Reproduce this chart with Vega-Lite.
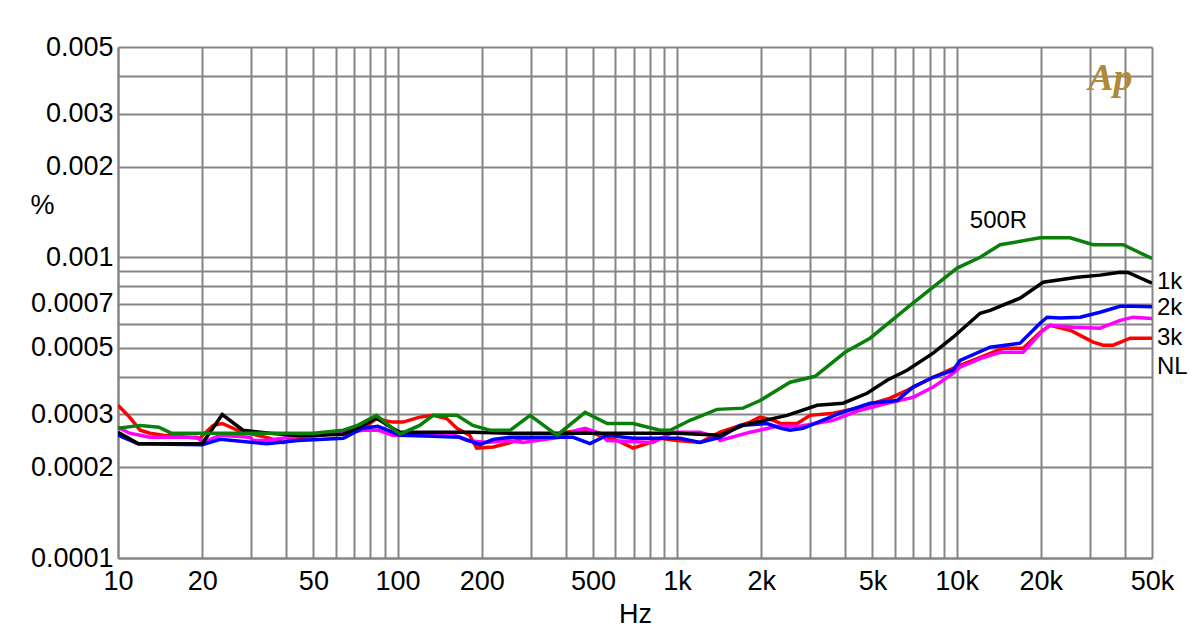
{
  "$schema": "https://vega.github.io/schema/vega-lite/v6.json",
  "width": 1034,
  "height": 511,
  "autosize": {"type": "none"},
  "padding": {"left": 118, "top": 47, "right": 48, "bottom": 84},
  "background": "white",
  "config": {
    "view": {"stroke": null},
    "font": "Liberation Sans",
    "axis": {
      "gridColor": "#858585", "gridWidth": 2, "gridOpacity": 1,
      "domainColor": "#858585", "domainWidth": 2,
      "ticks": false, "labelColor": "#000", "labelFontSize": 27, "labelFont": "Liberation Sans",
      "titleFont": "Liberation Sans", "titleFontSize": 27, "titleFontWeight": "normal", "titleColor": "#000",
      "labelOverlap": false, "labelFlush": false, "labelBound": false
    }
  },
  "layer": [
    {
      "data": {"values": [
        {"s":"NL","f":10,"v":0.000322},{"s":"NL","f":11,"v":0.000294},{"s":"NL","f":12,"v":0.000266},{"s":"NL","f":13,"v":0.00026},{"s":"NL","f":14.5,"v":0.000256},{"s":"NL","f":19.6,"v":0.00025},{"s":"NL","f":21.9,"v":0.000276},{"s":"NL","f":23.6,"v":0.00028},{"s":"NL","f":26.7,"v":0.000266},{"s":"NL","f":35,"v":0.00025},{"s":"NL","f":38.9,"v":0.000242},{"s":"NL","f":43.7,"v":0.00025},{"s":"NL","f":64,"v":0.000262},{"s":"NL","f":75,"v":0.00027},{"s":"NL","f":84,"v":0.00029},{"s":"NL","f":96,"v":0.000283},{"s":"NL","f":104.6,"v":0.000283},{"s":"NL","f":120,"v":0.000294},{"s":"NL","f":134,"v":0.000298},{"s":"NL","f":150,"v":0.000291},{"s":"NL","f":163,"v":0.00027},{"s":"NL","f":181,"v":0.000256},{"s":"NL","f":192,"v":0.000232},{"s":"NL","f":220,"v":0.000234},{"s":"NL","f":253,"v":0.000242},{"s":"NL","f":281,"v":0.00025},{"s":"NL","f":351,"v":0.00025},{"s":"NL","f":404,"v":0.000262},{"s":"NL","f":450,"v":0.000266},{"s":"NL","f":501,"v":0.00026},{"s":"NL","f":562,"v":0.00025},{"s":"NL","f":610,"v":0.000246},{"s":"NL","f":696,"v":0.000232},{"s":"NL","f":781,"v":0.00024},{"s":"NL","f":869,"v":0.00025},{"s":"NL","f":1000,"v":0.000246},{"s":"NL","f":1208,"v":0.000242},{"s":"NL","f":1425,"v":0.000262},{"s":"NL","f":1825,"v":0.000283},{"s":"NL","f":1982,"v":0.000294},{"s":"NL","f":2206,"v":0.000287},{"s":"NL","f":2352,"v":0.00028},{"s":"NL","f":2688,"v":0.00028},{"s":"NL","f":2990,"v":0.000298},{"s":"NL","f":3614,"v":0.000303},{"s":"NL","f":4406,"v":0.000315},{"s":"NL","f":5781,"v":0.00034},{"s":"NL","f":6650,"v":0.000361},{"s":"NL","f":8241,"v":0.000399},{"s":"NL","f":9716,"v":0.000427},{"s":"NL","f":10290,"v":0.000437},{"s":"NL","f":12140,"v":0.000465},{"s":"NL","f":14670,"v":0.000498},{"s":"NL","f":17300,"v":0.000498},{"s":"NL","f":19890,"v":0.000563},{"s":"NL","f":21600,"v":0.000594},{"s":"NL","f":25470,"v":0.000572},{"s":"NL","f":30790,"v":0.000522},{"s":"NL","f":33430,"v":0.00051},{"s":"NL","f":36300,"v":0.00051},{"s":"NL","f":41780,"v":0.000538},{"s":"NL","f":50000,"v":0.000538},

        {"s":"3k","f":10,"v":0.000272},{"s":"3k","f":11,"v":0.00026},{"s":"3k","f":13,"v":0.000252},{"s":"3k","f":19.2,"v":0.000252},{"s":"3k","f":20.1,"v":0.000242},{"s":"3k","f":23.2,"v":0.000256},{"s":"3k","f":29.7,"v":0.000252},{"s":"3k","f":30.4,"v":0.000246},{"s":"3k","f":34,"v":0.000246},{"s":"3k","f":41,"v":0.000252},{"s":"3k","f":64,"v":0.00026},{"s":"3k","f":75,"v":0.000266},{"s":"3k","f":85,"v":0.000266},{"s":"3k","f":96,"v":0.000256},{"s":"3k","f":102,"v":0.000256},{"s":"3k","f":120,"v":0.00026},{"s":"3k","f":154,"v":0.00026},{"s":"3k","f":177,"v":0.000246},{"s":"3k","f":209,"v":0.000242},{"s":"3k","f":246,"v":0.000246},{"s":"3k","f":281,"v":0.000242},{"s":"3k","f":381,"v":0.000252},{"s":"3k","f":439,"v":0.000266},{"s":"3k","f":469,"v":0.00027},{"s":"3k","f":530,"v":0.00026},{"s":"3k","f":562,"v":0.000246},{"s":"3k","f":820,"v":0.000242},{"s":"3k","f":967,"v":0.000262},{"s":"3k","f":1208,"v":0.000262},{"s":"3k","f":1390,"v":0.000252},{"s":"3k","f":1425,"v":0.000246},{"s":"3k","f":1825,"v":0.000262},{"s":"3k","f":2279,"v":0.000274},{"s":"3k","f":2754,"v":0.000274},{"s":"3k","f":3614,"v":0.000287},{"s":"3k","f":4515,"v":0.00031},{"s":"3k","f":5640,"v":0.000327},{"s":"3k","f":6989,"v":0.000342},{"s":"3k","f":8241,"v":0.00037},{"s":"3k","f":9716,"v":0.000411},{"s":"3k","f":10290,"v":0.000431},{"s":"3k","f":12140,"v":0.00046},{"s":"3k","f":14310,"v":0.000483},{"s":"3k","f":17300,"v":0.000483},{"s":"3k","f":20400,"v":0.000572},{"s":"3k","f":21600,"v":0.000594},{"s":"3k","f":26110,"v":0.000585},{"s":"3k","f":32600,"v":0.000581},{"s":"3k","f":38460,"v":0.000617},{"s":"3k","f":42800,"v":0.000632},{"s":"3k","f":50000,"v":0.000625},

        {"s":"2k","f":10,"v":0.000256},{"s":"2k","f":11.8,"v":0.00024},{"s":"2k","f":20,"v":0.000238},{"s":"2k","f":23.2,"v":0.000248},{"s":"2k","f":34,"v":0.00024},{"s":"2k","f":44,"v":0.000246},{"s":"2k","f":64,"v":0.00025},{"s":"2k","f":75,"v":0.00027},{"s":"2k","f":85,"v":0.000274},{"s":"2k","f":96,"v":0.000262},{"s":"2k","f":102,"v":0.000256},{"s":"2k","f":134,"v":0.000254},{"s":"2k","f":167,"v":0.000252},{"s":"2k","f":197,"v":0.000238},{"s":"2k","f":220,"v":0.000248},{"s":"2k","f":253,"v":0.000252},{"s":"2k","f":425,"v":0.000252},{"s":"2k","f":488,"v":0.00024},{"s":"2k","f":562,"v":0.000256},{"s":"2k","f":696,"v":0.00025},{"s":"2k","f":1025,"v":0.00025},{"s":"2k","f":1208,"v":0.000242},{"s":"2k","f":1425,"v":0.000252},{"s":"2k","f":1680,"v":0.000276},{"s":"2k","f":2099,"v":0.00028},{"s":"2k","f":2352,"v":0.00027},{"s":"2k","f":2537,"v":0.000266},{"s":"2k","f":2824,"v":0.00027},{"s":"2k","f":3830,"v":0.000303},{"s":"2k","f":4903,"v":0.000327},{"s":"2k","f":6124,"v":0.000334},{"s":"2k","f":6989,"v":0.00037},{"s":"2k","f":8241,"v":0.000399},{"s":"2k","f":9716,"v":0.000421},{"s":"2k","f":10290,"v":0.000454},{"s":"2k","f":13180,"v":0.000502},{"s":"2k","f":16870,"v":0.000518},{"s":"2k","f":19890,"v":0.000603},{"s":"2k","f":21080,"v":0.000632},{"s":"2k","f":23450,"v":0.000628},{"s":"2k","f":27670,"v":0.000632},{"s":"2k","f":32600,"v":0.000656},{"s":"2k","f":38460,"v":0.000687},{"s":"2k","f":42800,"v":0.000687},{"s":"2k","f":50000,"v":0.000685},

        {"s":"1k","f":10,"v":0.000262},{"s":"1k","f":11.8,"v":0.00024},{"s":"1k","f":20,"v":0.00024},{"s":"1k","f":23.6,"v":0.0003},{"s":"1k","f":28,"v":0.000266},{"s":"1k","f":35,"v":0.00026},{"s":"1k","f":45,"v":0.000255},{"s":"1k","f":64,"v":0.000258},{"s":"1k","f":75,"v":0.000276},{"s":"1k","f":84,"v":0.000292},{"s":"1k","f":96,"v":0.00027},{"s":"1k","f":102,"v":0.000262},{"s":"1k","f":134,"v":0.000262},{"s":"1k","f":186,"v":0.000262},{"s":"1k","f":253,"v":0.00026},{"s":"1k","f":298,"v":0.00026},{"s":"1k","f":500,"v":0.00026},{"s":"1k","f":1000,"v":0.00026},{"s":"1k","f":1425,"v":0.000256},{"s":"1k","f":1722,"v":0.000276},{"s":"1k","f":2475,"v":0.000298},{"s":"1k","f":3170,"v":0.000322},{"s":"1k","f":3925,"v":0.000327},{"s":"1k","f":4784,"v":0.000353},{"s":"1k","f":5640,"v":0.00039},{"s":"1k","f":6650,"v":0.000421},{"s":"1k","f":8241,"v":0.00048},{"s":"1k","f":9716,"v":0.000542},{"s":"1k","f":12140,"v":0.000651},{"s":"1k","f":13180,"v":0.000666},{"s":"1k","f":16870,"v":0.000731},{"s":"1k","f":20400,"v":0.000826},{"s":"1k","f":27000,"v":0.000858},{"s":"1k","f":32600,"v":0.000872},{"s":"1k","f":38460,"v":0.000892},{"s":"1k","f":41000,"v":0.00089},{"s":"1k","f":50000,"v":0.00082},

        {"s":"500R","f":10,"v":0.00027},{"s":"500R","f":12,"v":0.000276},{"s":"500R","f":14,"v":0.000272},{"s":"500R","f":15.5,"v":0.00026},{"s":"500R","f":20,"v":0.00026},{"s":"500R","f":50,"v":0.00026},{"s":"500R","f":64,"v":0.000266},{"s":"500R","f":72,"v":0.000276},{"s":"500R","f":84,"v":0.000298},{"s":"500R","f":102,"v":0.000258},{"s":"500R","f":120,"v":0.000276},{"s":"500R","f":134,"v":0.000298},{"s":"500R","f":163,"v":0.000298},{"s":"500R","f":186,"v":0.000276},{"s":"500R","f":214,"v":0.000266},{"s":"500R","f":253,"v":0.000266},{"s":"500R","f":298,"v":0.000298},{"s":"500R","f":372,"v":0.000256},{"s":"500R","f":469,"v":0.000305},{"s":"500R","f":562,"v":0.00028},{"s":"500R","f":696,"v":0.00028},{"s":"500R","f":869,"v":0.000266},{"s":"500R","f":944,"v":0.000266},{"s":"500R","f":1113,"v":0.000287},{"s":"500R","f":1390,"v":0.000312},{"s":"500R","f":1722,"v":0.000315},{"s":"500R","f":1982,"v":0.000334},{"s":"500R","f":2537,"v":0.000384},{"s":"500R","f":3117,"v":0.000402},{"s":"500R","f":3990,"v":0.000483},{"s":"500R","f":4903,"v":0.000538},{"s":"500R","f":6817,"v":0.000692},{"s":"500R","f":10040,"v":0.00092},{"s":"500R","f":12140,"v":0.001},{"s":"500R","f":14310,"v":0.0011},{"s":"500R","f":19890,"v":0.00116},{"s":"500R","f":25470,"v":0.00116},{"s":"500R","f":30790,"v":0.0011},{"s":"500R","f":39420,"v":0.0011},{"s":"500R","f":50000,"v":0.00099}
      ]},
      "mark": {"type": "line", "strokeWidth": 3.5, "clip": true},
      "encoding": {
        "x": {
          "field": "f", "type": "quantitative",
          "scale": {"type": "log", "domain": [10, 50000], "nice": false},
          "axis": {
            "values": [10,20,30,40,50,60,70,80,90,100,200,300,400,500,600,700,800,900,1000,2000,3000,4000,5000,6000,7000,8000,9000,10000,20000,30000,40000,50000],
            "grid": true, "labelPadding": 10,
            "labelExpr": "indexof([10,20,50,100,200,500,1000,2000,5000,10000,20000,50000], datum.value) >= 0 ? (datum.value >= 1000 ? format(datum.value/1000, 'd') + 'k' : format(datum.value, 'd')) : ''",
            "title": "Hz", "titleY": 56, "titleBaseline": "middle"
          }
        },
        "y": {
          "field": "v", "type": "quantitative",
          "scale": {"type": "log", "domain": [0.0001, 0.005], "nice": false},
          "axis": {
            "values": [0.0001,0.0002,0.0003,0.0004,0.0005,0.0006,0.0007,0.0008,0.0009,0.001,0.002,0.003,0.004,0.005],
            "grid": true, "labelPadding": 5, "format": ".4~f",
            "labelExpr": "indexof([0.0001,0.0002,0.0003,0.0005,0.0007,0.001,0.002,0.003,0.005], datum.value) >= 0 ? datum.label : ''",
            "title": "%", "titleAngle": 0, "titleX": -76, "titleY": 158, "titleAlign": "center", "titleBaseline": "middle"
          }
        },
        "color": {
          "field": "s", "type": "nominal",
          "scale": {"domain": ["NL", "3k", "2k", "1k", "500R"], "range": ["#ff0000", "#ff00ff", "#0000ff", "#000000", "#0a800a"]},
          "legend": null
        }
      }
    },
    {
      "data": {"values": [
        {"label": "500R", "f": 10700, "v": 0.00132},
        {"label": "1k", "f": 50000, "v": 0.000826},
        {"label": "2k", "f": 50000, "v": 0.000677},
        {"label": "3k", "f": 50000, "v": 0.000538},
        {"label": "NL", "f": 50000, "v": 0.000431}
      ]},
      "mark": {"type": "text", "align": "left", "baseline": "middle", "dx": 5, "fontSize": 24, "font": "Liberation Sans", "color": "#000"},
      "encoding": {
        "x": {"field": "f", "type": "quantitative"},
        "y": {"field": "v", "type": "quantitative"},
        "text": {"field": "label"}
      }
    },
    {
      "data": {"values": [{"label": "Ap", "f": 35500, "v": 0.0039}]},
      "mark": {"type": "text", "align": "center", "baseline": "middle", "fontSize": 38, "font": "Liberation Serif", "fontStyle": "italic", "fontWeight": "bold", "color": "#b08a35"},
      "encoding": {
        "x": {"field": "f", "type": "quantitative"},
        "y": {"field": "v", "type": "quantitative"},
        "text": {"field": "label"}
      }
    }
  ]
}
